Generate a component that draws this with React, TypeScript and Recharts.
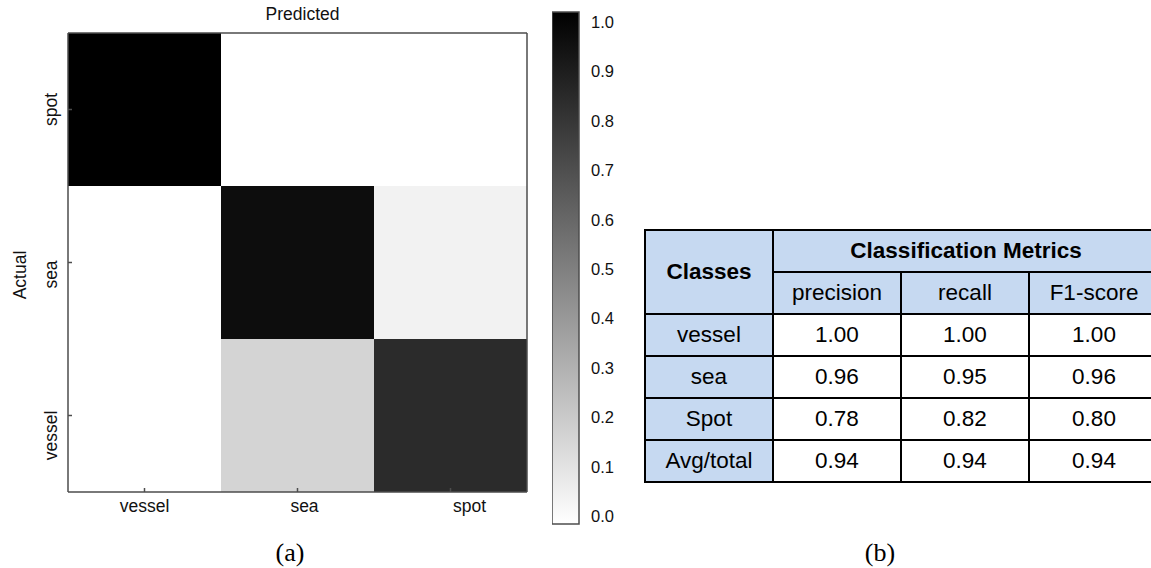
import React from "react"
import {
  BarChart,
  Bar,
  Cell,
  XAxis,
  YAxis,
  Label,
  ReferenceLine,
} from "recharts"

// class order used for both axes of the confusion matrix
const classes = ["vessel", "sea", "spot"]

// confusion matrix rows (actual class), columns follow `classes` (predicted)
const actualVessel = [0.0, 0.17, 0.83]
const actualSea = [0.0, 0.95, 0.05]
const actualSpot = [1.0, 0.0, 0.0]

const colorbarTicks = [0.0, 0.1, 0.2, 0.3, 0.4, 0.5, 0.6, 0.7, 0.8, 0.9, 1.0]
const colorbarMarks = [0.1, 0.2, 0.3, 0.4, 0.5, 0.6, 0.7, 0.8, 0.9]

// classification metrics table
const metricNames = ["precision", "recall", "F1-score"]
const metricClasses = ["vessel", "sea", "Spot", "Avg/total"]
const precision = [1.0, 0.96, 0.78, 0.94]
const recall = [1.0, 0.95, 0.82, 0.94]
const f1Score = [1.0, 0.96, 0.8, 0.94]

const SANS = "'Liberation Sans', Arial, sans-serif"
const SERIF = "'Liberation Serif', 'DejaVu Serif', serif"
const FRAME = "#4d4d4d"
const HEADER_BG = "#c6d9f1"

const gray = (v: number) => {
  const g = Math.round(255 * (1 - v))
  return `rgb(${g},${g},${g})`
}

// bottom-to-top stacking order of the actual rows
const matrixRows = [
  { key: "vessel", values: actualVessel },
  { key: "sea", values: actualSea },
  { key: "spot", values: actualSpot },
]

// every cell is one unit tall; its colour comes from the matrix value
const matrixData = classes.map((name) => ({ name, vessel: 1, sea: 1, spot: 1 }))
const colorbarData = [{ name: "scale", value: 1 }]

const xShift: Record<string, number> = { vessel: 0, sea: 7, spot: 19 }
const yShift: Record<string, number> = { vessel: 20, sea: 12, spot: 0 }

function XTick(props: any) {
  const { x, y, payload } = props
  return (
    <text x={x + (xShift[payload.value] ?? 0)} y={y} dy="0.71em" textAnchor="middle" fill="#111" fontSize={17.5} fontFamily={SANS}>
      {payload.value}
    </text>
  )
}

function YTick(props: any) {
  const { x, y, payload } = props
  const name = classes[Math.floor(payload.value)]
  const cy = y + (yShift[name] ?? 0)
  return (
    <text
      x={x}
      y={cy}
      transform={`rotate(-90, ${x}, ${cy})`}
      textAnchor="middle"
      dominantBaseline="central"
      fill="#111"
      fontSize={17.5}
      fontFamily={SANS}
    >
      {name}
    </text>
  )
}

function ColorbarTick(props: any) {
  const { x, y, payload } = props
  const v = Number(payload.value)
  return (
    <text x={x} y={y - 8 + 18 * v} textAnchor="start" dominantBaseline="central" fill="#111" fontSize={16.5} fontFamily={SANS}>
      {v.toFixed(1)}
    </text>
  )
}

// short inward mark on the right edge of the colour bar
function InnerMark(props: any) {
  const { x2, y1 } = props
  if (x2 == null || y1 == null) return null
  return <line x1={x2 - 4} y1={y1} x2={x2} y2={y1} stroke="#333" strokeWidth={1} />
}

function ConfusionMatrix() {
  return (
    <BarChart width={540} height={530} data={matrixData} margin={{ top: 32, right: 12, bottom: 8, left: 0 }} barCategoryGap={0} barGap={0}>
      <XAxis
        xAxisId="bottom"
        dataKey="name"
        height={30}
        interval={0}
        tickSize={-4}
        tickMargin={12}
        stroke={FRAME}
        strokeWidth={1.5}
        tick={<XTick />}
      />
      <XAxis xAxisId="top" dataKey="name" orientation="top" height={1} interval={0} tickSize={-4} tick={false} stroke={FRAME} strokeWidth={1.5}>
        <Label
          content={({ viewBox }: any) => (
            <text x={viewBox.x + viewBox.width / 2 + 5} y={viewBox.y - 12} textAnchor="middle" fill="#111" fontSize={17.5} fontFamily={SANS}>
              Predicted
            </text>
          )}
        />
      </XAxis>
      <YAxis
        yAxisId="left"
        type="number"
        domain={[0, 3]}
        ticks={[0.5, 1.5, 2.5]}
        width={68}
        tickSize={-4}
        tickMargin={21}
        stroke={FRAME}
        strokeWidth={1.5}
        tick={<YTick />}
      >
        <Label
          content={({ viewBox }: any) => {
            const cx = viewBox.x + 19.5
            const cy = viewBox.y + viewBox.height / 2 + 12.5
            return (
              <text
                x={cx}
                y={cy}
                transform={`rotate(-90, ${cx}, ${cy})`}
                textAnchor="middle"
                dominantBaseline="central"
                fill="#111"
                fontSize={17.5}
                fontFamily={SANS}
              >
                Actual
              </text>
            )
          }}
        />
      </YAxis>
      <YAxis
        yAxisId="right"
        orientation="right"
        type="number"
        domain={[0, 3]}
        ticks={[0.5, 1.5, 2.5]}
        width={1}
        tickSize={-4}
        tick={false}
        stroke={FRAME}
        strokeWidth={1.5}
      />
      {matrixRows.map((row) => (
        <Bar key={row.key} dataKey={row.key} stackId="m" xAxisId="bottom" yAxisId="left" isAnimationActive={false}>
          {row.values.map((v, i) => (
            <Cell key={i} fill={gray(v)} />
          ))}
        </Bar>
      ))}
    </BarChart>
  )
}

function Colorbar() {
  return (
    <BarChart width={80} height={568} data={colorbarData} margin={{ top: 12, right: 0, bottom: 44, left: 0 }} barCategoryGap={0}>
      <defs>
        <linearGradient id="cbGrad" x1="0" y1="0" x2="0" y2="1">
          <stop offset="0" stopColor="#000000" />
          <stop offset="1" stopColor="#ffffff" />
        </linearGradient>
      </defs>
      <XAxis dataKey="name" hide />
      <YAxis
        orientation="right"
        type="number"
        domain={[0, 1]}
        ticks={colorbarTicks}
        width={53}
        axisLine={false}
        tickLine={false}
        tickSize={0}
        tickMargin={12}
        tick={<ColorbarTick />}
      />
      <Bar dataKey="value" fill="url(#cbGrad)" stroke={FRAME} strokeWidth={1.5} isAnimationActive={false} />
      {colorbarMarks.map((v) => (
        <ReferenceLine key={v} y={v} shape={<InnerMark />} />
      ))}
    </BarChart>
  )
}

const cellBase: React.CSSProperties = {
  border: "2px solid #000",
  textAlign: "center",
  padding: 0,
  height: 40,
}

function MetricsTable() {
  const columns = [precision, recall, f1Score]
  return (
    <table
      style={{
        borderCollapse: "collapse",
        tableLayout: "fixed",
        width: 514,
        fontFamily: SANS,
        fontSize: 22.5,
        color: "#000",
      }}
    >
      <colgroup>
        <col style={{ width: 128 }} />
        <col style={{ width: 128 }} />
        <col style={{ width: 128 }} />
        <col style={{ width: 130 }} />
      </colgroup>
      <tbody>
        <tr>
          <td rowSpan={2} style={{ ...cellBase, background: HEADER_BG, fontWeight: "bold" }}>
            Classes
          </td>
          <td colSpan={3} style={{ ...cellBase, background: HEADER_BG, fontWeight: "bold" }}>
            Classification Metrics
          </td>
        </tr>
        <tr>
          {metricNames.map((m) => (
            <td key={m} style={{ ...cellBase, background: HEADER_BG }}>
              {m}
            </td>
          ))}
        </tr>
        {metricClasses.map((c, r) => (
          <tr key={c}>
            <td style={{ ...cellBase, background: HEADER_BG }}>{c}</td>
            {columns.map((col, k) => (
              <td key={k} style={{ ...cellBase, background: "#fff" }}>
                {col[r].toFixed(2)}
              </td>
            ))}
          </tr>
        ))}
      </tbody>
    </table>
  )
}

export default function App() {
  return (
    <div style={{ position: "absolute", left: 0, top: 0, width: 1151, height: 568, overflow: "hidden", background: "#fff" }}>
      <div style={{ position: "absolute", left: 0, top: 0 }}>
        <ConfusionMatrix />
      </div>
      <div style={{ position: "absolute", left: 552, top: 0 }}>
        <Colorbar />
      </div>
      <div style={{ position: "absolute", left: 644, top: 229 }}>
        <MetricsTable />
      </div>
      <div style={{ position: "absolute", left: 240, top: 535, width: 100, textAlign: "center", fontFamily: SERIF, fontSize: 26, lineHeight: "36px" }}>
        (a)
      </div>
      <div style={{ position: "absolute", left: 830, top: 535, width: 100, textAlign: "center", fontFamily: SERIF, fontSize: 26, lineHeight: "36px" }}>
        (b)
      </div>
    </div>
  )
}
